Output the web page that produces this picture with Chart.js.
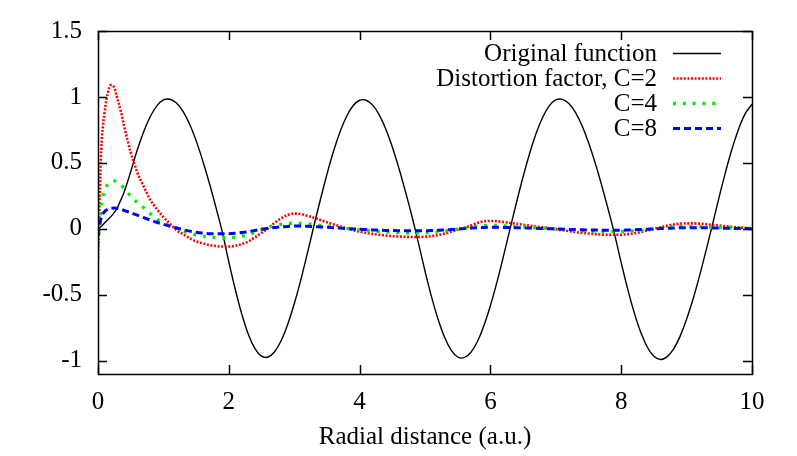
<!DOCTYPE html>
<html>
<head>
<meta charset="utf-8">
<script src="https://cdn.jsdelivr.net/npm/chart.js@4.4.1/dist/chart.umd.min.js"></script>
<style>
html,body{margin:0;padding:0;background:#fff;}
#wrap{width:797px;height:456px;position:relative;}
</style>
</head>
<body>
<div id="wrap"><canvas id="c" width="797" height="456"></canvas></div>
<script>
// Radial distance samples (a.u.)
const radius = [0,0.05,0.1,0.15,0.2,0.25,0.3,0.35,0.4,
0.5,0.6,0.7,0.8,0.9,1.0,1.1,1.2,1.3,1.4,1.5,1.6,1.7,1.8,1.9,2.0,
2.1,2.2,2.3,2.4,2.5,2.6,2.7,2.8,2.9,3.0,3.1,3.2,3.3,3.4,3.5,3.6,3.7,3.8,3.9,4.0,
4.1,4.2,4.3,4.4,4.5,4.6,4.7,4.8,4.9,5.0,5.1,5.2,5.3,5.4,5.5,5.6,5.7,5.8,5.9,6.0,
6.1,6.2,6.3,6.4,6.5,6.6,6.7,6.8,6.9,7.0,7.1,7.2,7.3,7.4,7.5,7.6,7.7,7.8,7.9,8.0,
8.1,8.2,8.3,8.4,8.5,8.6,8.7,8.8,8.9,9.0,9.1,9.2,9.3,9.4,9.5,9.6,9.7,9.8,9.9,10.0];

const originalFunction = [0,0.02,0.045,0.07,0.095,0.125,0.165,0.22,0.28,
0.433,0.598,0.739,0.852,0.932,0.977,0.983,0.954,0.891,0.795,0.669,0.519,0.352,0.169,-0.023,-0.249,
-0.461,-0.648,-0.800,-0.907,-0.965,-0.971,-0.931,-0.848,-0.725,-0.569,-0.388,-0.188,0.020,0.221,0.412,0.586,0.734,0.852,0.933,0.975,
0.975,0.938,0.864,0.757,0.621,0.462,0.284,0.096,-0.108,-0.319,-0.515,-0.685,-0.822,-0.919,-0.971,-0.976,-0.937,-0.856,-0.735,-0.582,
-0.404,-0.207,0.0,0.202,0.395,0.572,0.725,0.846,0.932,0.977,0.982,0.950,0.883,0.783,0.655,0.503,0.333,0.150,-0.043,-0.256,
-0.457,-0.636,-0.785,-0.897,-0.966,-0.99,-0.970,-0.911,-0.815,-0.685,-0.530,-0.352,-0.159,0.041,0.246,0.440,0.615,0.763,0.877,0.945];

const distortionC2 = [-0.22,0.6,0.88,1.03,1.09,1.07,0.98,0.89,0.78,
0.58,0.43,0.32,0.22,0.15,0.09,0.04,-0.01,-0.04,-0.07,-0.095,-0.11,-0.122,-0.13,-0.134,-0.134,
-0.128,-0.115,-0.095,-0.065,-0.03,0.005,0.045,0.08,0.105,0.116,0.112,0.10,0.085,0.068,0.05,0.035,0.02,0.005,-0.01,-0.02,
-0.03,-0.038,-0.045,-0.05,-0.055,-0.058,-0.06,-0.062,-0.062,-0.06,-0.055,-0.047,-0.036,-0.022,-0.007,0.008,0.025,0.045,0.057,0.06,
0.058,0.052,0.045,0.038,0.032,0.025,0.018,0.012,0.005,-0.002,-0.01,-0.017,-0.024,-0.03,-0.035,-0.04,-0.043,-0.045,-0.045,-0.044,
-0.04,-0.033,-0.024,-0.012,0.0,0.012,0.024,0.033,0.039,0.042,0.042,0.04,0.035,0.03,0.025,0.02,0.015,0.011,0.007,0.004];

const distortionC4 = [-0.12,0.18,0.29,0.34,0.36,0.364,0.355,0.335,0.305,
0.25,0.2,0.16,0.115,0.075,0.045,0.025,0.005,-0.015,-0.03,-0.045,-0.055,-0.062,-0.066,-0.067,-0.066,
-0.062,-0.055,-0.043,-0.025,-0.005,0.012,0.025,0.035,0.041,0.043,0.042,0.038,0.033,0.027,0.021,0.015,0.01,0.004,-0.002,-0.007,
-0.012,-0.016,-0.02,-0.023,-0.026,-0.028,-0.03,-0.031,-0.031,-0.03,-0.027,-0.023,-0.017,-0.01,-0.003,0.005,0.013,0.02,0.024,0.026,
0.025,0.023,0.02,0.017,0.014,0.011,0.008,0.005,0.002,-0.001,-0.004,-0.008,-0.011,-0.014,-0.016,-0.018,-0.02,-0.021,-0.021,-0.02,
-0.018,-0.015,-0.011,-0.006,0.0,0.005,0.01,0.014,0.017,0.018,0.018,0.017,0.015,0.013,0.011,0.009,0.007,0.005,0.003,0.002];

const distortionC8 = [-0.05,0.09,0.13,0.15,0.157,0.158,0.155,0.148,0.14,
0.122,0.104,0.085,0.067,0.05,0.035,0.02,0.007,-0.006,-0.017,-0.026,-0.032,-0.036,-0.037,-0.037,-0.036,
-0.033,-0.028,-0.021,-0.012,-0.003,0.005,0.011,0.016,0.019,0.021,0.021,0.02,0.018,0.015,0.012,0.009,0.006,0.003,0.0,-0.003,
-0.005,-0.008,-0.01,-0.012,-0.013,-0.014,-0.015,-0.015,-0.015,-0.014,-0.013,-0.011,-0.008,-0.005,-0.002,0.002,0.006,0.009,0.011,0.012,
0.012,0.011,0.01,0.009,0.007,0.006,0.004,0.003,0.001,0.0,-0.002,-0.004,-0.005,-0.007,-0.008,-0.009,-0.01,-0.01,-0.01,-0.01,
-0.009,-0.007,-0.005,-0.003,0.0,0.002,0.004,0.006,0.008,0.009,0.009,0.009,0.008,0.007,0.006,0.005,0.004,0.003,0.002,0.001];

const seriesLabels = ["Original function","Distortion factor, C=2","C=4","C=8"];
const xTickValues = [0,2,4,6,8,10];
const yTickValues = [-1,-0.5,0,0.5,1,1.5];
const xTitle = "Radial distance (a.u.)";

const FONT = "'Liberation Serif','DejaVu Serif',serif";
const FSIZE = 25;

const styles = [
  {color:'#000000', width:1.4, dash:[]},
  {color:'#ff0000', width:2.6, dash:[2,1.6]},
  {color:'#00ee00', width:3.4, dash:[3,6.8]},
  {color:'#0000ff', width:3.0, dash:[7,4]}
];
const seriesData = [originalFunction, distortionC2, distortionC4, distortionC8];

const datasets = seriesData.map((vals,i)=>{
  const d = {
    label: seriesLabels[i],
    data: radius.map((r,j)=>({x:r,y:vals[j]})),
    borderColor: styles[i].color,
    borderWidth: styles[i].width,
    borderDash: styles[i].dash,
    borderCapStyle:'butt',
    pointRadius:0,
    fill:false,
    order: 4-i
  };
  if(i===0){ d.tension = 0.4; } else { d.cubicInterpolationMode = 'monotone'; }
  return d;
});

const frame = {
  id:'frame',
  afterDraw(chart){
    const {ctx, chartArea:a, scales:{x,y}} = chart;
    ctx.save();
    ctx.strokeStyle='#000';
    ctx.lineWidth=1.5;
    ctx.beginPath();
    const T=9;
    xTickValues.forEach(v=>{
      const px=Math.round(x.getPixelForValue(v))+0.5;
      ctx.moveTo(px,a.bottom); ctx.lineTo(px,a.bottom-T);
      ctx.moveTo(px,a.top); ctx.lineTo(px,a.top+T);
    });
    yTickValues.forEach(v=>{
      const py=Math.round(y.getPixelForValue(v))+0.5;
      ctx.moveTo(a.left,py); ctx.lineTo(a.left+T,py);
      ctx.moveTo(a.right,py); ctx.lineTo(a.right-T,py);
    });
    ctx.stroke();
    ctx.strokeRect(a.left+0.5,a.top+0.5,a.right-a.left,a.bottom-a.top);
    // legend (gnuplot style)
    ctx.font = FSIZE+"px "+FONT;
    ctx.fillStyle='#000';
    ctx.textAlign='right';
    ctx.textBaseline='middle';
    const rows=[53,78,103,128];
    seriesLabels.forEach((lab,i)=>{
      ctx.fillText(lab,657,rows[i]+1);
      ctx.beginPath();
      ctx.strokeStyle=styles[i].color;
      ctx.lineWidth=styles[i].width;
      ctx.setLineDash(styles[i].dash);
      ctx.lineCap='butt';
      ctx.moveTo(673,rows[i]+0.5); ctx.lineTo(721,rows[i]+0.5);
      ctx.stroke();
    });
    ctx.restore();
  }
};

new Chart(document.getElementById('c'),{
  type:'line',
  data:{datasets},
  options:{
    responsive:false,
    animation:false,
    devicePixelRatio:1,
    layout:{padding:{top:30,right:45,left:0,bottom:0}},
    plugins:{legend:{display:false},tooltip:{enabled:false}},
    scales:{
      x:{
        type:'linear', min:0, max:10,
        afterFit(s){ s.height = 82; },
        afterBuildTicks(s){ s.ticks = xTickValues.map(v=>({value:v})); },
        grid:{display:false, drawTicks:false},
        border:{display:false},
        ticks:{color:'#000', padding:13, font:{family:FONT,size:FSIZE}, maxRotation:0, callback:v=>String(v)},
        title:{display:true, text:xTitle, color:'#000', font:{family:FONT,size:FSIZE}, padding:{top:0,bottom:4}}
      },
      y:{
        type:'linear', min:-1.1, max:1.5,
        afterFit(s){ s.width = 98; },
        afterBuildTicks(s){ s.ticks = yTickValues.map(v=>({value:v})); },
        grid:{display:false, drawTicks:false},
        border:{display:false},
        ticks:{color:'#000', padding:16, font:{family:FONT,size:FSIZE}, callback:v=>String(v)}
      }
    }
  },
  plugins:[frame]
});
</script>
</body>
</html>
